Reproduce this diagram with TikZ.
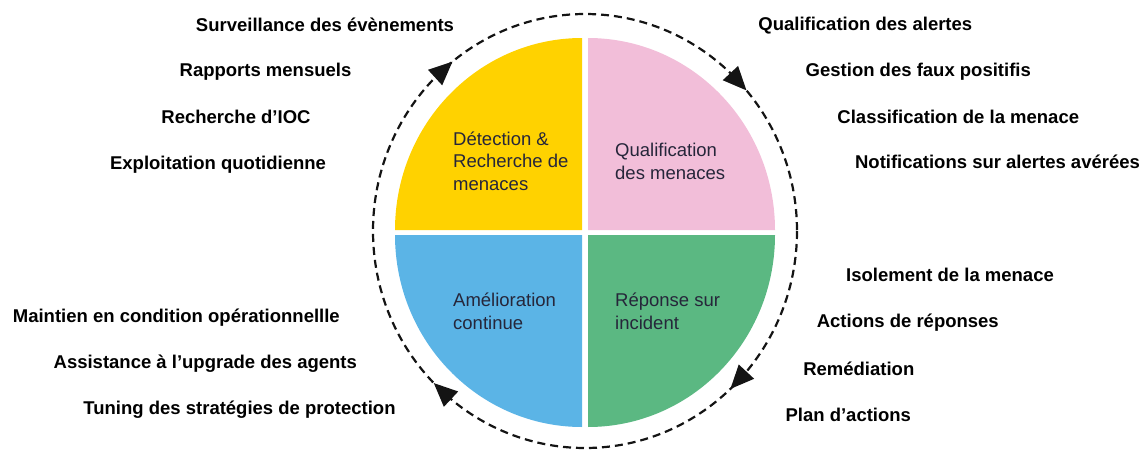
\documentclass[tikz,border=0pt]{standalone}
\usepackage{fontspec}
\setmainfont{Liberation Sans}
\usetikzlibrary{calc}
\definecolor{qyellow}{HTML}{FFD200}
\definecolor{qpink}{HTML}{F2BED9}
\definecolor{qblue}{HTML}{5BB4E6}
\definecolor{qgreen}{HTML}{5BB882}
\definecolor{qtext}{HTML}{26263A}
\definecolor{cyccol}{HTML}{141414}
\begin{document}
\begin{tikzpicture}[x=1pt,y=-1pt,
  lbl/.style={font=\fontsize{18.5}{22}\selectfont\bfseries, text=black, inner sep=0pt, anchor=base},
  qtxt/.style={font=\fontsize{18.5}{22.5}\selectfont, text=qtext, align=left, inner sep=0pt, anchor=base west},
  cycle line/.style={line width=2.2pt, dash pattern=on 8pt off 5pt, cyccol},
  cyctip/.style={fill=cyccol}
]
\useasboundingbox (0,0) rectangle (1141,450);

% quadrants
\fill[qyellow] (582,230) -- (395,230) arc[start angle=180,end angle=270,x radius=187,y radius=192] -- cycle;
\fill[qpink] (588,230) -- (588,38) arc[start angle=270,end angle=360,x radius=187,y radius=192] -- cycle;
\fill[qgreen] (588,235) -- (775,235) arc[start angle=0,end angle=90,x radius=187,y radius=192] -- cycle;
\fill[qblue] (582,235) -- (582,427) arc[start angle=90,end angle=180,x radius=187,y radius=192] -- cycle;

% cycle
\coordinate (cc) at (585,231);
\draw[cycle line] (cc) ellipse [x radius=212, y radius=217];
\foreach \a [count=\i] in {-40.4,-128.7,135.5,46.7}{
  \coordinate (t\i) at ($(cc)+(\a:212 and 217)$);
  \coordinate (b\i) at ($(cc)+(\a-6.3:212 and 217)$);
  \fill[cyctip] (t\i) -- ($(b\i)!10.5pt!90:(t\i)$) -- ($(b\i)!10.5pt!-90:(t\i)$) -- cycle;
}

% quadrant texts
\node[qtxt] (q1) at (453,190) {Détection \&\\Recherche de\\menaces};
\node[qtxt] (q2) at (615,179.3) {Qualification\\des menaces};
\node[qtxt] (q3) at (453,329.3) {Amélioration\\continue};
\node[qtxt] (q4) at (615,329.3) {Réponse sur\\incident};

% left labels
\node[lbl] (l1) at (325,31) {Surveillance des évènements};
\node[lbl] (l2) at (265.5,76.3) {Rapports mensuels};
\node[lbl] (l3) at (236,123.3) {Recherche d’IOC};
\node[lbl] (l4) at (218,169.3) {Exploitation quotidienne};
\node[lbl] (l5) at (176.3,322.5) {Maintien en condition opérationnellle};
\node[lbl] (l6) at (205.3,368.3) {Assistance à l’upgrade des agents};
\node[lbl] (l7) at (239.5,414.3) {Tuning des stratégies de protection};

% right labels
\node[lbl] (r1) at (865.3,30.7) {Qualification des alertes};
\node[lbl] (r2) at (918.3,76.7) {Gestion des faux positifis};
\node[lbl] (r3) at (958.3,123.3) {Classification de la menace};
\node[lbl] (r4) at (997.5,168.3) {Notifications sur alertes avérées};
\node[lbl] (r5) at (950,281.7) {Isolement de la menace};
\node[lbl] (r6) at (907.8,327.3) {Actions de réponses};
\node[lbl] (r7) at (858.8,375) {Remédiation};
\node[lbl] (r8) at (848.3,421.7) {Plan d’actions};
\end{tikzpicture}
\end{document}
